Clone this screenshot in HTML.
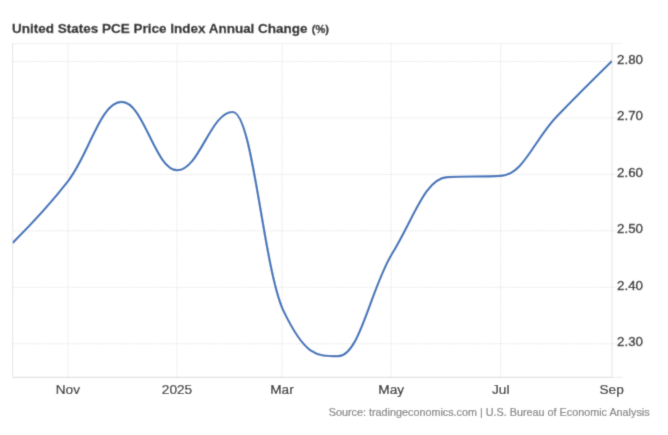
<!DOCTYPE html>
<html lang="en">
<head>
<meta charset="utf-8">
<title>United States PCE Price Index Annual Change</title>
<style>
html, body { margin: 0; padding: 0; background: #ffffff; }
body { width: 668px; height: 435px; overflow: hidden; font-family: "Liberation Sans", Arial, sans-serif; }
svg { display: block; }
</style>
</head>
<body>
<svg width="668" height="435" viewBox="0 0 668 435">
<defs><clipPath id="plotclip"><rect x="12.6" y="43.7" width="599.4" height="333.7"/></clipPath><filter id="soft" x="0" y="0" width="668" height="435" filterUnits="userSpaceOnUse"><feConvolveMatrix order="3" kernelMatrix="0.0192 0.1001 0.0192 0.1001 0.5228 0.1001 0.0192 0.1001 0.0192" edgeMode="duplicate" preserveAlpha="true"/></filter></defs>
<g filter="url(#soft)">
<rect width="668" height="435" fill="#ffffff"/>
<g stroke="#dedede" stroke-width="1" stroke-dasharray="1,1.2" fill="none">
<path d="M 12.6 61.50 H 612.0"/>
<path d="M 12.6 117.95 H 612.0"/>
<path d="M 12.6 174.40 H 612.0"/>
<path d="M 12.6 230.85 H 612.0"/>
<path d="M 12.6 287.30 H 612.0"/>
<path d="M 12.6 343.75 H 612.0"/>
<path d="M 67.90 43.7 V 377.4"/>
<path d="M 177.00 43.7 V 377.4"/>
<path d="M 282.00 43.7 V 377.4"/>
<path d="M 391.20 43.7 V 377.4"/>
<path d="M 500.70 43.7 V 377.4"/>
<path d="M 12.6 43.7 H 622.5"/>
</g>
<g stroke="#e6e6e6" stroke-width="1.1" fill="none">
<path d="M 12.6 43.7 V 377.4"/>
<path d="M 612.0 43.7 V 377.4"/>
<path d="M 12.6 377.4 H 612.0" stroke="#e2e2e2" stroke-width="1.2"/>
<path d="M 612.0 377.4 H 622.8" stroke="#ececec"/>
<path d="M 612.0 61.50 h 5" stroke-opacity="0.6"/>
<path d="M 612.0 117.95 h 5" stroke-opacity="0.6"/>
<path d="M 612.0 174.40 h 5" stroke-opacity="0.6"/>
<path d="M 612.0 230.85 h 5" stroke-opacity="0.6"/>
<path d="M 612.0 287.30 h 5" stroke-opacity="0.6"/>
<path d="M 612.0 343.75 h 5" stroke-opacity="0.6"/>
</g>
<path d="M 12.60 242.90 C 12.60 242.90 45.88 209.76 68.07 181.10 C 89.54 153.36 100.27 101.90 121.74 101.90 C 143.93 101.90 155.02 170.20 177.21 170.20 C 199.40 170.20 210.49 112.00 232.68 112.00 C 252.72 112.00 262.74 262.60 282.78 309.40 C 304.96 356.20 316.06 356.20 338.24 356.20 C 359.72 356.20 370.45 289.23 391.92 254.00 C 414.11 217.59 425.20 178.30 447.39 177.10 C 468.86 175.90 479.60 177.10 501.07 175.90 C 523.25 174.70 534.35 139.68 556.53 116.70 C 578.72 93.72 612.00 61.00 612.00 61.00" fill="none" stroke="#3771b9" stroke-width="2.2" stroke-linejoin="round" clip-path="url(#plotclip)"/>
<text x="12.1" y="32.6" font-family="'Liberation Sans', Arial, sans-serif" font-weight="bold" font-size="13.49" fill="#2a2a2a" stroke="#2a2a2a" stroke-width="0.3">United States PCE Price Index Annual Change<tspan font-size="11.1" dx="4.2">(%)</tspan></text>
<g font-family="'Liberation Sans', Arial, sans-serif" font-size="13.35" fill="#2a2a2a" stroke="#2a2a2a" stroke-width="0.35">
<text x="617.0" y="63.90">2.80</text>
<text x="617.0" y="120.35">2.70</text>
<text x="617.0" y="176.80">2.60</text>
<text x="617.0" y="233.25">2.50</text>
<text x="617.0" y="289.70">2.40</text>
<text x="617.0" y="346.15">2.30</text>
<text x="67.90" y="393.6" font-size="13.65" stroke-width="0.22" text-anchor="middle">Nov</text>
<text x="177.00" y="393.6" font-size="13.65" stroke-width="0.22" text-anchor="middle">2025</text>
<text x="282.00" y="393.6" font-size="13.65" stroke-width="0.22" text-anchor="middle">Mar</text>
<text x="391.20" y="393.6" font-size="13.65" stroke-width="0.22" text-anchor="middle">May</text>
<text x="500.70" y="393.6" font-size="13.65" stroke-width="0.22" text-anchor="middle">Jul</text>
<text x="611.60" y="393.6" font-size="13.65" stroke-width="0.22" text-anchor="middle">Sep</text>
</g>
<text x="649.6" y="415.8" text-anchor="end" font-family="'Liberation Sans', Arial, sans-serif" font-size="11.2" textLength="320.8" lengthAdjust="spacingAndGlyphs" fill="#808080" stroke="#808080" stroke-width="0.2">Source: tradingeconomics.com | U.S. Bureau of Economic Analysis</text>
</g>
</svg>
</body>
</html>
